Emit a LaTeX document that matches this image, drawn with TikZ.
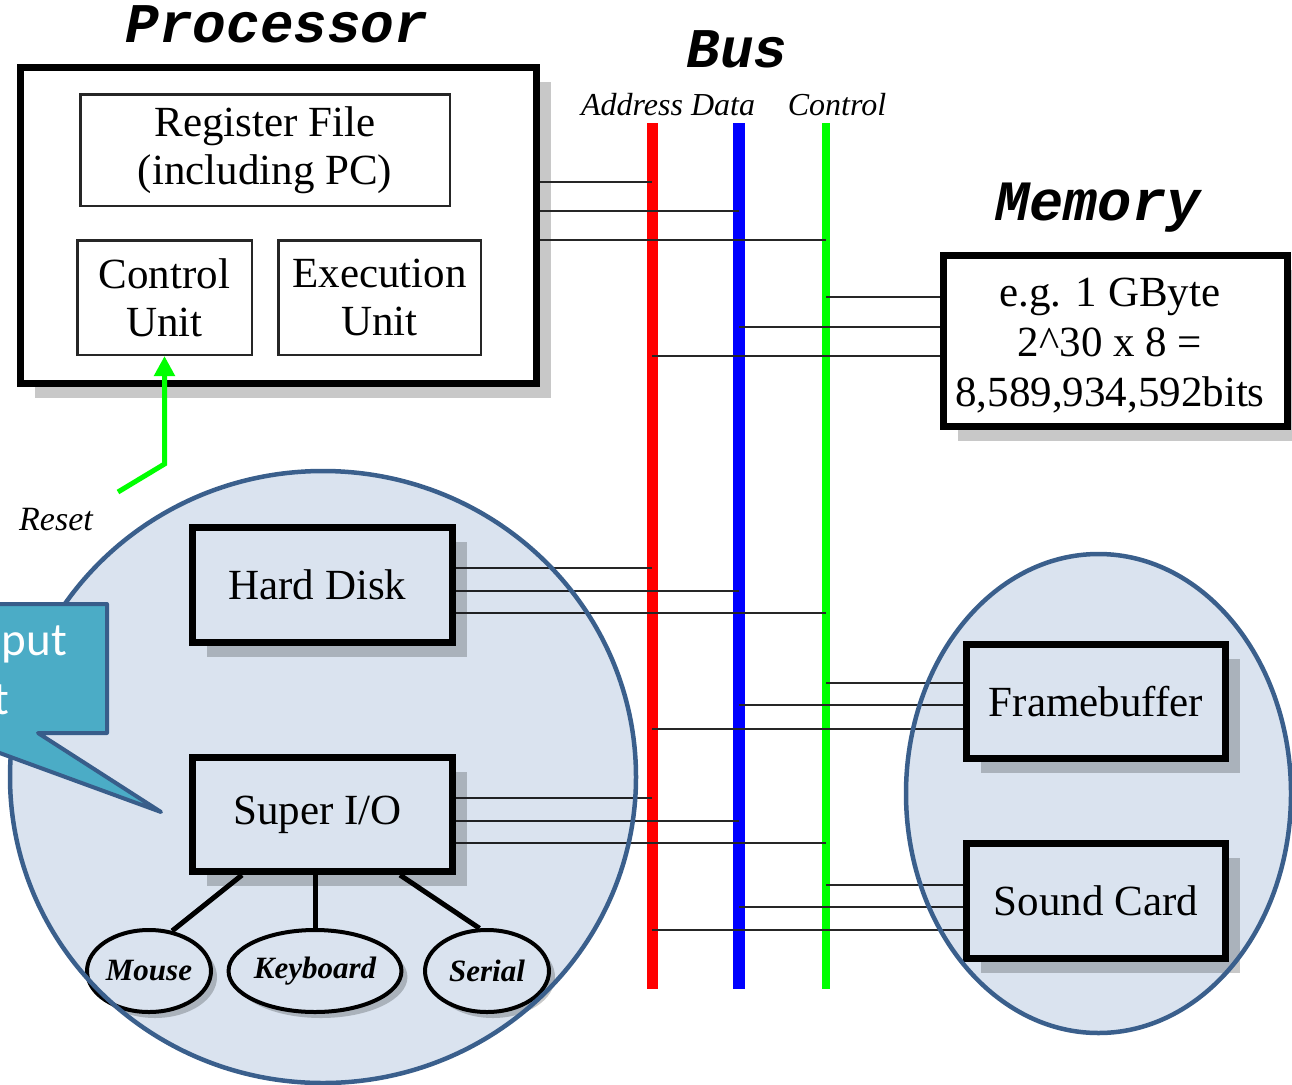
\documentclass[tikz,border=0pt]{standalone}
\usepackage{fontspec}
\setmainfont{Liberation Serif}
\newfontfamily\courfont{Liberation Mono}
\newfontfamily\calfont{Carlito}
\usetikzlibrary{shapes.geometric,shadows,arrows.meta}

\definecolor{shadegray}{RGB}{200,200,200}
\definecolor{ringfill}{RGB}{218,227,239}
\definecolor{ringline}{RGB}{58,95,140}
\definecolor{tipfill}{RGB}{75,172,198}
\definecolor{tipline}{RGB}{56,93,138}

\tikzset{
  unit/.style={draw=black, line width=7pt, fill=white, inner sep=0pt,
    font=\fontsize{43}{48}\selectfont, align=center,
    drop shadow={fill=shadegray, opacity=1, shadow xshift=14pt, shadow yshift=-14pt}},
  part/.style={draw=black!85, line width=2.5pt, fill=white, inner sep=0pt,
    font=\fontsize{43}{48}\selectfont, align=center},
  port/.style={ellipse, draw=black, line width=4pt, fill=white, inner sep=0pt,
    minimum height=82pt, font=\fontsize{31}{31}\selectfont\bfseries\itshape,
    drop shadow={fill=shadegray, opacity=1, shadow xshift=6pt, shadow yshift=-6pt}},
  title/.style={font=\courfont\bfseries\itshape\fontsize{56}{56}\selectfont, anchor=base},
  busname/.style={font=\itshape\fontsize{32}{32}\selectfont, anchor=base},
  wire/.style={line width=2pt, black!85},
  link/.style={line width=5pt, black},
  resetline/.style={line width=5pt, green, -{Triangle[width=20pt,length=20pt]}},
}

\begin{document}
\begin{tikzpicture}[x=1pt,y=-1pt]
\useasboundingbox (0,0) rectangle (1292,1084);

%processor
\node[unit, minimum width=516pt, minimum height=316pt] (proc) at (278.5,225.5) {};
\node[title] (proclbl) at (277,42) {Processor};
\node[part, minimum width=369.5pt, minimum height=111.5pt] (reg) at (265,150) {Register File\\(including PC)};
\node[part, minimum width=174.5pt, minimum height=114.5pt] (cu) at (164.5,297.5) {Control\\Unit};
\node[part, minimum width=202.5pt, minimum height=114.5pt] (eu) at (379.5,297.5) {Execution\\Unit};

%memory
\node[title, font=\courfont\bfseries\itshape\fontsize{57}{57}\selectfont] (memlbl) at (1098,220) {Memory};
\node[unit, minimum width=344pt, minimum height=171pt] (mem) at (1115.5,341) {};
\node[font=\fontsize{43}{50}\selectfont, align=center] (memtxt) at (1110,346)
  {e.g. 1 GByte\\2\textasciicircum 30 x 8 =\\8,589,934,592bits};

%devices
\node[unit, minimum width=260pt, minimum height=115pt] (hd) at (322.5,585) {Hard Disk\hspace*{10pt}};
\node[unit, minimum width=260pt, minimum height=114pt] (sio) at (322.5,814.5) {Super I/O\hspace*{10pt}};
\node[unit, minimum width=259pt, minimum height=114pt] (fb) at (1096,701.5) {Framebuffer};
\node[unit, minimum width=259pt, minimum height=115pt] (snd) at (1096,901) {Sound Card};

\node[port, minimum width=124pt] (mouse) at (149,971) {Mouse};
\node[port, minimum width=142pt] (keyb) at (315,971) {Keyboard};
\node[port, minimum width=124pt] (serial) at (487,971) {Serial};
\draw[link] (sio.south -| 242,0) -- (mouse.60);
\draw[link] (keyb.north |- sio.south) -- (keyb.north);
\draw[link] (sio.south -| 400,0) -- (serial.100);

%bus
\node[title] (buslbl) at (737,67) {Bus};
\node[busname] (addrlbl) at (632,115) {Address};
\node[busname] (datalbl) at (723,115) {Data};
\node[busname] (ctrllbl) at (837,115) {Control};
\coordinate (addrT) at (652,123); \coordinate (addrB) at (652,989);
\coordinate (dataT) at (739,123); \coordinate (dataB) at (739,989);
\coordinate (ctrlT) at (826,123); \coordinate (ctrlB) at (826,989);
\draw[line width=11pt, red] (addrT) -- (addrB);
\draw[line width=12pt, blue] (dataT) -- (dataB);
\draw[line width=8pt, green] (ctrlT) -- (ctrlB);

%wires
\foreach \y/\bus in {182/addrT, 211/dataT, 240/ctrlT}
  \draw[wire] (proc.east |- 0,\y) -- (\bus |- 0,\y);
\foreach \y/\bus in {297/ctrlT, 327/dataT, 356/addrT}
  \draw[wire] (\bus |- 0,\y) -- (mem.west |- 0,\y);
\foreach \y/\bus in {568/addrT, 591/dataT, 613/ctrlT}
  \draw[wire] (hd.east |- 0,\y) -- (\bus |- 0,\y);
\foreach \y/\bus in {798/addrT, 821/dataT, 843/ctrlT}
  \draw[wire] (sio.east |- 0,\y) -- (\bus |- 0,\y);
\foreach \y/\bus in {683/ctrlT, 705/dataT, 729/addrT}
  \draw[wire] (\bus |- 0,\y) -- (fb.west |- 0,\y);
\foreach \y/\bus in {885/ctrlT, 907/dataT, 930/addrT}
  \draw[wire] (\bus |- 0,\y) -- (snd.west |- 0,\y);

%reset
\coordinate (rst) at (118,492);
\draw[resetline] (rst) -- (cu.south |- 0,464) -- (cu.south);
\node[font=\itshape\fontsize{34}{34}\selectfont, anchor=base] (rstlbl) at (56,530) {Reset};

%groups
\begin{scope}[blend mode=multiply]
\fill[ringfill] (323,777) ellipse [x radius=313, y radius=306];
\fill[ringfill] (1098.5,793.5) ellipse [x radius=192.5, y radius=239.5];
\end{scope}
\draw[ringline, line width=4.5pt] (323,777) ellipse [x radius=313, y radius=306];
\draw[ringline, line width=4.5pt] (1098.5,793.5) ellipse [x radius=192.5, y radius=239.5];

%callout
\filldraw[fill=tipfill, draw=tipline, line width=4pt, line join=round]
  (-80,604) -- (107,604) -- (107,733) -- (38,733) -- (161,812) -- (-55,733) -- (-80,733) -- cycle;
\node[font=\calfont\fontsize{47}{47}\selectfont, text=white, anchor=base west, inner sep=0pt] (tipA) at (-23,655) {nput};
\node[font=\calfont\fontsize{47}{47}\selectfont, text=white, anchor=base west, inner sep=0pt] (tipB) at (-7,714) {t};
\end{tikzpicture}
\end{document}
